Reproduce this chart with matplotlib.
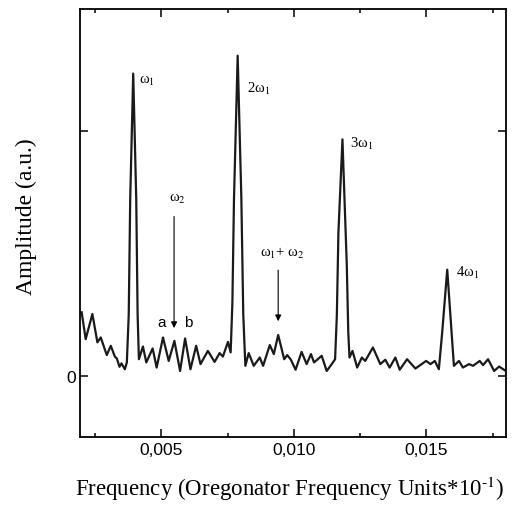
import matplotlib
matplotlib.use('Agg')
import matplotlib.pyplot as plt

plt.rcParams['mathtext.fontset'] = 'stix'

# spectrum: frequency (x10^-1 units) and amplitude (a.u.)
freq = [0.001995, 0.002146, 0.002399, 0.002588, 0.002715, 0.002942, 0.003093, 0.003245,
        0.003321, 0.003422, 0.003497, 0.003624, 0.003699, 0.003770, 0.003826, 0.003939,
        0.004053, 0.004105, 0.004154, 0.004306, 0.004432, 0.004672, 0.004823, 0.005063,
        0.005278, 0.005492, 0.005707, 0.005896, 0.006098, 0.006313, 0.006477, 0.006755,
        0.007008, 0.007197, 0.007323, 0.007513, 0.007614, 0.007680, 0.007740, 0.007879,
        0.008018, 0.008090, 0.008169, 0.008295, 0.008485, 0.008712, 0.008838, 0.009091,
        0.009242, 0.009407, 0.009634, 0.009747, 0.009886, 0.010063, 0.010290, 0.010480,
        0.010644, 0.010758, 0.011048, 0.011237, 0.011427, 0.011553, 0.011620, 0.011679,
        0.011831, 0.011995, 0.012050, 0.012096, 0.012210, 0.012386, 0.012563, 0.012689,
        0.012980, 0.013258, 0.013447, 0.013611, 0.013826, 0.013990, 0.014268, 0.014583,
        0.014987, 0.015152, 0.015316, 0.015467, 0.015593, 0.015783, 0.015947, 0.016035,
        0.016225, 0.016376, 0.016604, 0.016755, 0.017008, 0.017134, 0.017323, 0.017551,
        0.017740, 0.017992]
amp = [0.260, 0.150, 0.253, 0.137, 0.157, 0.085, 0.123, 0.079,
       0.071, 0.037, 0.051, 0.027, 0.055, 0.250, 0.724, 1.236,
       0.724, 0.250, 0.068, 0.120, 0.055, 0.112, 0.034, 0.157,
       0.061, 0.143, 0.020, 0.153, 0.027, 0.123, 0.048, 0.102,
       0.057, 0.093, 0.079, 0.139, 0.096, 0.300, 0.724, 1.309,
       0.724, 0.250, 0.041, 0.093, 0.041, 0.075, 0.041, 0.126,
       0.089, 0.167, 0.068, 0.085, 0.066, 0.025, 0.098, 0.048,
       0.089, 0.055, 0.082, 0.020, 0.048, 0.068, 0.250, 0.587,
       0.967, 0.451, 0.180, 0.075, 0.102, 0.034, 0.075, 0.061,
       0.116, 0.048, 0.066, 0.034, 0.075, 0.025, 0.068, 0.030,
       0.061, 0.048, 0.061, 0.027, 0.178, 0.434, 0.178, 0.041,
       0.061, 0.034, 0.048, 0.041, 0.061, 0.044, 0.068, 0.020,
       0.038, 0.020]

# peak labels: text, x, y
peak_labels = ['ω$_1$', '2ω$_1$', '3ω$_1$', '4ω$_1$']
peak_label_x = [0.004167, 0.008232, 0.012121, 0.016098]
peak_label_y = [1.209, 1.178, 0.954, 0.423]

xticks = [0.005, 0.010, 0.015]
xtick_labels = ['0,005', '0,010', '0,015']

fig = plt.figure(figsize=(5.26, 5.06), dpi=100)
ax = fig.add_axes([0.153, 0.1344, 0.809, 0.8458])

ax.plot(freq, amp, color='#1a1a1a', lw=1.6, solid_joinstyle='round')

ax.set_xlim(0.00195, 0.018)
ax.set_ylim(-0.25, 1.5)
ax.set_xticks(xticks)
ax.set_xticklabels(xtick_labels, family='Liberation Sans', fontsize=12.5)
ax.set_xticks([0.0025, 0.0075, 0.0125, 0.0175], minor=True)
ax.set_yticks([0, 1])
ax.set_yticklabels(['0', ''], family='Liberation Sans', fontsize=12.5)
ax.tick_params(which='both', direction='in', top=True, right=True, width=1.1)
ax.tick_params(which='major', length=6)
ax.tick_params(which='minor', length=3)
for sp in ax.spines.values():
    sp.set_linewidth(1.3)

ax.set_xlabel(r'Frequency (Oregonator Frequency Units*10$^{\text{-}1}$)',
              family='Liberation Serif', fontsize=16.5)
ax.set_ylabel('Amplitude (a.u.)', family='Liberation Serif', fontsize=17)
ax.xaxis.set_label_coords(0.492, -0.086)
ax.yaxis.set_label_coords(-0.103, 0.516)

for lab, x, y in zip(peak_labels, peak_label_x, peak_label_y):
    ax.text(x, y, lab, family='Liberation Serif', fontsize=10.5, ha='left', va='center')

# omega_2 arrow with a / b side peaks
ax.text(0.005303, 0.727, 'ω$_2$', family='Liberation Serif', fontsize=10.5,
        ha='left', va='center')
ax.annotate('', xy=(0.00548, 0.184), xytext=(0.00548, 0.663),
            arrowprops=dict(arrowstyle='-|>', color='k', lw=0.8, mutation_scale=9))
ax.text(0.005025, 0.221, 'a', family='Liberation Sans', fontsize=11, ha='center', va='center')
ax.text(0.006, 0.221, 'b', family='Liberation Sans', fontsize=11, ha='center', va='center')

# omega_1 + omega_2 arrow
ax.text(0.008712, 0.505, 'ω$_1$+ ω$_2$', family='Liberation Serif', fontsize=10.5,
        ha='left', va='center')
ax.annotate('', xy=(0.009407, 0.212), xytext=(0.009407, 0.444),
            arrowprops=dict(arrowstyle='-|>', color='k', lw=0.8, mutation_scale=9))

fig.savefig('out.png', dpi=100)
